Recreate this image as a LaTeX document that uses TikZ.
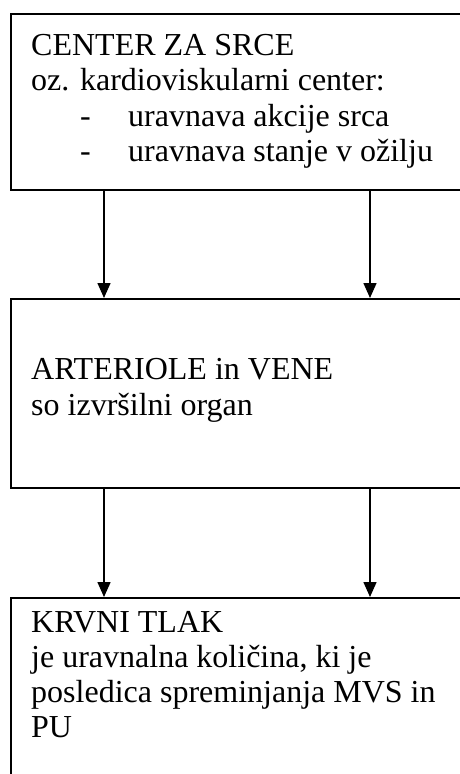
\documentclass[tikz,border=0pt]{standalone}
\usepackage{fontspec}
\setmainfont{Liberation Serif}
\usetikzlibrary{arrows.meta}
\begin{document}
\begin{tikzpicture}[x=1pt,y=-1pt,
  box/.style={draw,line width=1.5pt,rectangle,anchor=north west,inner sep=0pt,minimum width=460pt},
  txt/.style={anchor=base west,inner sep=0pt,font=\fontsize{32}{35}\selectfont},
  arr/.style={line width=1.5pt,-{Triangle[width=13pt,length=15pt]}}]
  \useasboundingbox (0,0) rectangle (459,774);
  % the three stacked boxes; the right and lower edges run past the page
  \node[box,minimum height=176pt] (b1) at (10,13) {};
  \node[box,minimum height=189pt] (b2) at (10,298) {};
  \node[box,minimum height=200pt] (b3) at (10,597) {};
  % columns of the connectors
  \coordinate (cl) at (104,0);
  \coordinate (cr) at (370,0);
  % texts of the first box
  \node[txt] (t11) at (31,55) {CENTER ZA SRCE};
  \node[txt] (t12) at (31,90) {oz. kardioviskularni center:};
  \node[txt] (d1) at (80,126) {-};
  \node[txt] (t13) at (128,126) {uravnava akcije srca};
  \node[txt] (d2) at (80,161) {-};
  \node[txt] (t14) at (128,161) {uravnava stanje v ožilju};
  % texts of the second box
  \node[txt] (t21) at (31,379) {ARTERIOLE in VENE};
  \node[txt] (t22) at (31,415) {so izvršilni organ};
  % texts of the third box
  \node[txt] (t31) at (31,632) {KRVNI TLAK};
  \node[txt] (t32) at (31,667) {je uravnalna količina, ki je};
  \node[txt] (t33) at (31,702) {posledica spreminjanja MVS in};
  \node[txt] (t34) at (31,737) {PU};
  % connectors
  \draw[arr] (b1.south -| cl) -- (b2.north -| cl);
  \draw[arr] (b1.south -| cr) -- (b2.north -| cr);
  \draw[arr] (b2.south -| cl) -- (b3.north -| cl);
  \draw[arr] (b2.south -| cr) -- (b3.north -| cr);
\end{tikzpicture}
\end{document}
